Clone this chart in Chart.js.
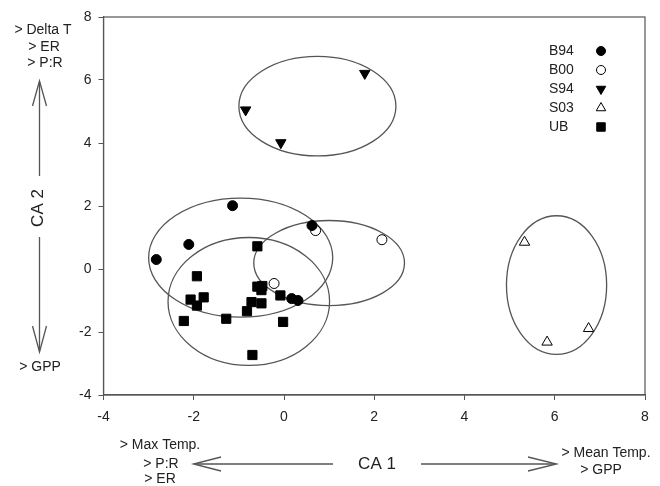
<!DOCTYPE html>
<html lang="en">
<head>
  <meta charset="UTF-8">
  <title>CA ordination</title>
  <script src="https://cdn.jsdelivr.net/npm/chart.js"></script>
  <style>
    html, body {
      margin: 0;
      padding: 0;
      background: #fff;
    }
    #wrap {
      width: 660px;
      height: 486px;
    }
  </style>
</head>
<body>
  <div id="wrap"><canvas id="grafico"></canvas></div>

  <script>
    // site groups
    const groups = ['B94', 'B00', 'S94', 'S03', 'UB'];

    const b94X = [-2.83, -2.11, -1.14, 0.62, 0.17, 0.31];
    const b94Y = [0.30, 0.78, 2.01, 1.38, -0.94, -1.00];

    const b00X = [0.70, -0.22, 2.17];
    const b00Y = [1.22, -0.46, 0.93];

    const s94X = [1.79, -0.85, -0.07];
    const s94Y = [6.21, 5.05, 4.01];

    const s03X = [5.33, 5.83, 6.75];
    const s03Y = [0.85, -2.32, -1.89];

    const ubX = [-0.59, -1.93, -2.07, -1.78, -1.93, -2.22, -1.28, -0.59, -0.48, -0.50, -0.72, -0.82, -0.50, -0.08, -0.02, -0.70];
    const ubY = [0.72, -0.23, -0.97, -0.90, -1.16, -1.65, -1.58, -0.56, -0.54, -0.67, -1.05, -1.34, -1.09, -0.84, -1.68, -2.73];

    // group ellipses (data units): B94, B00, S94, S03, UB
    const ellipseCX = [-0.96, 1.00, 0.74, 6.04, -0.78];
    const ellipseCY = [0.36, 0.19, 5.17, -0.51, -1.03];
    const ellipseRX = [2.04, 1.67, 1.74, 1.11, 1.79];
    const ellipseRY = [1.89, 1.35, 1.58, 2.20, 2.03];

    const axisTicks = [-4, -2, 0, 2, 4, 6, 8];

    const FONT = "'Liberation Sans', Arial, sans-serif";
    const INK = '#222';
    const LINE = '#555';

    function pts(xs, ys) {
      return xs.map((x, i) => ({ x: x, y: ys[i] }));
    }

    const estilos = [
      { pointStyle: 'circle', radius: 5, fill: '#000', rotation: 0 },
      { pointStyle: 'circle', radius: 5, fill: '#fff', rotation: 0 },
      { pointStyle: 'triangle', radius: 6, fill: '#000', rotation: 180 },
      { pointStyle: 'triangle', radius: 6, fill: '#fff', rotation: 0 },
      { pointStyle: 'rect', radius: 6.5, fill: '#000', rotation: 0 }
    ];
    const series = [pts(b94X, b94Y), pts(b00X, b00Y), pts(s94X, s94Y), pts(s03X, s03Y), pts(ubX, ubY)];

    const datasets = groups.map((g, i) => ({
      label: g,
      data: series[i],
      pointStyle: estilos[i].pointStyle,
      pointRadius: estilos[i].radius,
      pointHoverRadius: estilos[i].radius,
      rotation: estilos[i].rotation,
      backgroundColor: estilos[i].fill,
      borderColor: '#000',
      borderWidth: 1
    }));

    function arrowHead(ctx, tx, ty, bx, by, spread) {
      // open V head: tip (tx,ty), back point along the shaft (bx,by)
      const dx = bx - tx, dy = by - ty;
      const len = Math.hypot(dx, dy);
      const nx = -dy / len * spread, ny = dx / len * spread;
      ctx.beginPath();
      ctx.moveTo(bx + nx, by + ny);
      ctx.lineTo(tx, ty);
      ctx.lineTo(bx - nx, by - ny);
      ctx.stroke();
    }

    function line(ctx, x1, y1, x2, y2) {
      ctx.beginPath();
      ctx.moveTo(x1, y1);
      ctx.lineTo(x2, y2);
      ctx.stroke();
    }

    const decor = {
      id: 'decor',
      beforeDatasetsDraw(chart) {
        const ctx = chart.ctx;
        const xs = chart.scales.x, ys = chart.scales.y;
        ctx.save();
        ctx.strokeStyle = LINE;
        ctx.lineWidth = 1.3;
        for (let i = 0; i < ellipseCX.length; i++) {
          const cx = xs.getPixelForValue(ellipseCX[i]);
          const cy = ys.getPixelForValue(ellipseCY[i]);
          const rx = Math.abs(xs.getPixelForValue(ellipseCX[i] + ellipseRX[i]) - cx);
          const ry = Math.abs(ys.getPixelForValue(ellipseCY[i] + ellipseRY[i]) - cy);
          ctx.beginPath();
          ctx.ellipse(cx, cy, rx, ry, 0, 0, Math.PI * 2);
          ctx.stroke();
        }
        ctx.restore();
      },
      afterDraw(chart) {
        const ctx = chart.ctx;
        const a = chart.chartArea;
        ctx.save();

        // frame
        ctx.strokeStyle = LINE;
        ctx.lineWidth = 1.2;
        ctx.strokeRect(a.left, a.top, a.right - a.left, a.bottom - a.top);

        // legend: label then marker
        ctx.font = '14px ' + FONT;
        ctx.textBaseline = 'middle';
        chart.data.datasets.forEach((ds, i) => {
          const y = 51 + i * 19;
          ctx.fillStyle = INK;
          ctx.textAlign = 'left';
          ctx.fillText(ds.label, 549, y);
          ctx.fillStyle = ds.backgroundColor;
          ctx.strokeStyle = '#000';
          ctx.lineWidth = 1;
          Chart.helpers.drawPoint(ctx, {
            pointStyle: ds.pointStyle,
            radius: ds.pointRadius - 0.5,
            rotation: ds.rotation,
            borderWidth: 1
          }, 601, y);
        });

        // axis 2 notes
        ctx.fillStyle = INK;
        ctx.textAlign = 'center';
        ctx.font = '14px ' + FONT;
        ctx.fillText('> Delta T', 43, 30);
        ctx.fillText('> ER', 44, 47);
        ctx.fillText('> P:R', 45, 63);
        ctx.fillText('> GPP', 40, 367);

        ctx.strokeStyle = LINE;
        ctx.lineWidth = 1.3;
        line(ctx, 39.5, 82, 39.5, 176);
        arrowHead(ctx, 39.5, 81, 39.5, 106, 7);
        line(ctx, 39.5, 237, 39.5, 351);
        arrowHead(ctx, 39.5, 352, 39.5, 326, 7);

        ctx.save();
        ctx.translate(38, 208);
        ctx.rotate(-Math.PI / 2);
        ctx.font = '17px ' + FONT;
        ctx.fillText('CA 2', 0, 0);
        ctx.restore();

        // axis 1 notes
        ctx.font = '14px ' + FONT;
        ctx.fillText('> Max Temp.', 160, 445);
        ctx.fillText('> P:R', 161, 464);
        ctx.fillText('> ER', 160, 479);
        ctx.fillText('> Mean Temp.', 606, 453);
        ctx.fillText('> GPP', 601, 470);

        ctx.font = '17px ' + FONT;
        ctx.fillText('CA 1', 377, 464);

        line(ctx, 195, 464, 333, 464);
        arrowHead(ctx, 193.5, 464, 221, 464, 7);
        line(ctx, 421, 464, 555, 464);
        arrowHead(ctx, 556.5, 464, 528, 464, 7);

        ctx.restore();
      }
    };

    const eixo = (axis) => ({
      type: 'linear',
      min: axisTicks[0],
      max: axisTicks[axisTicks.length - 1],
      afterBuildTicks: (s) => { s.ticks = axisTicks.map(v => ({ value: v })); },
      ticks: {
        color: INK,
        font: { family: FONT, size: 14 },
        padding: axis === 'x' ? 9 : 7,
        maxRotation: 0
      },
      grid: {
        drawOnChartArea: false,
        drawTicks: true,
        tickLength: 5,
        color: LINE
      },
      border: { display: true, color: LINE, width: 1.2 },
      afterFit: (s) => {
        if (axis === 'x') s.height = 486 - 395;
        else s.width = 103.5;
      }
    });

    const ctx = document.getElementById('grafico').getContext('2d');
    new Chart(ctx, {
      type: 'scatter',
      data: { datasets: datasets },
      options: {
        responsive: true,
        maintainAspectRatio: false,
        animation: false,
        layout: { padding: { top: 17, right: 15, left: 0, bottom: 0 } },
        plugins: {
          legend: { display: false },
          tooltip: { enabled: false }
        },
        scales: {
          x: eixo('x'),
          y: eixo('y')
        }
      },
      plugins: [decor]
    });
  </script>
</body>
</html>
